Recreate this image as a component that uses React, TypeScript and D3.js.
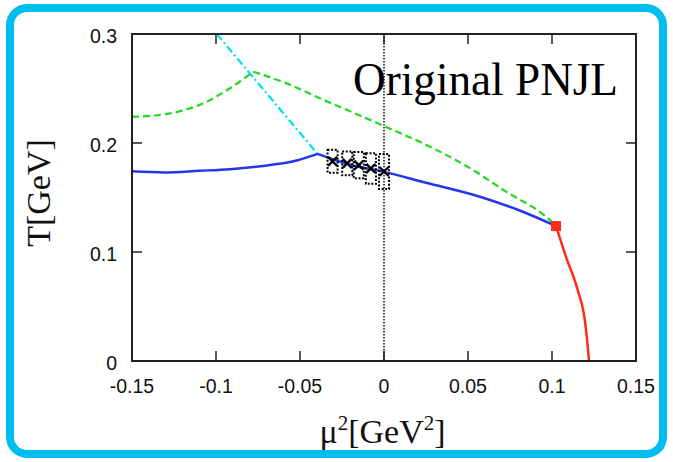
import React from "react";
import * as d3 from "d3";

// ---- data ----
const xTicks = [-0.15, -0.1, -0.05, 0, 0.05, 0.1, 0.15];
const xTickLabels = ["-0.15", "-0.1", "-0.05", "0", "0.05", "0.1", "0.15"];
const yTicks = [0, 0.1, 0.2, 0.3];
const yTickLabels = ["0", "0.1", "0.2", "0.3"];

// blue: crossover (solid), left of the kink
const blueLeftMu = [-0.15, -0.1304, -0.11, -0.0917, -0.072, -0.052, -0.0395];
const blueLeftT = [0.174, 0.173, 0.1745, 0.176, 0.179, 0.184, 0.19];
// blue: right of the kink up to the critical point
const blueRightMu = [-0.0395, -0.02, 0, 0.025, 0.0571, 0.08, 0.1024];
const blueRightT = [0.19, 0.18, 0.1735, 0.1635, 0.1507, 0.1385, 0.1238];
// red: first-order line
const redMu = [0.1024, 0.1083, 0.1153, 0.1198, 0.1218, 0.122];
const redT = [0.1238, 0.0957, 0.0651, 0.0346, 0.004, 0.0];
// green dashed
const greenLeftMu = [-0.15, -0.1274, -0.1076, -0.0917, -0.0778];
const greenLeftT = [0.224, 0.2272, 0.2364, 0.2502, 0.2654];
const greenRightMu = [-0.0778, -0.058, -0.0381, 0, 0.0293, 0.05, 0.071, 0.0998, 0.1024];
const greenRightT = [0.2654, 0.2547, 0.241, 0.2156, 0.1951, 0.178, 0.157, 0.1278, 0.1238];
// cyan dash-dot
const cyanMu = [-0.0996, -0.0395];
const cyanT = [0.3, 0.19];
// lattice points
const latMu = [-0.0306, -0.0219, -0.015, -0.0078, 0];
const latT = [0.1832, 0.1813, 0.1797, 0.1767, 0.1738];
const latMuErr = [0.003, 0.003, 0.003, 0.003, 0.003];
const latTErr = [0.0105, 0.011, 0.012, 0.014, 0.016];
// critical end point
const cepMu = [0.1024];
const cepT = [0.1238];

const W = 673;
const H = 462;

const x = d3.scaleLinear().domain([-0.15, 0.15]).range([132, 636]);
const y = d3.scaleLinear().domain([0, 0.3]).range([361, 34]);

const zip = (a: number[], b: number[]) => a.map((v, i) => [v, b[i]] as [number, number]);

const mono = d3
  .line<[number, number]>()
  .x((d) => x(d[0]))
  .y((d) => y(d[1]))
  .curve(d3.curveMonotoneX);
const lin = d3
  .line<[number, number]>()
  .x((d) => x(d[0]))
  .y((d) => y(d[1]));

export default function App() {
  const sans = "'Liberation Sans', Arial, sans-serif";
  const serif = "'Liberation Serif', 'Times New Roman', serif";
  const tickLen = 10;
  return (
    <svg
      width={W}
      height={H}
      style={{ position: "absolute", left: 0, top: 0, background: "#fff" }}
    >
      <rect x={0} y={0} width={W} height={H} fill="#fff" />
      <rect x={10} y={8} width={653} height={446} rx={17} ry={17} fill="none" stroke="#00BDEF" strokeWidth={8} />

      <defs>
        <clipPath id="plot">
          <rect x={132} y={34} width={504} height={327} />
        </clipPath>
      </defs>

      {/* ticks */}
      {xTicks.map((t, i) => (
        <g key={"xt" + i}>
          <line x1={x(t)} x2={x(t)} y1={361} y2={361 - tickLen} stroke="#222" strokeWidth={1.5} />
          <line x1={x(t)} x2={x(t)} y1={34} y2={34 + tickLen} stroke="#222" strokeWidth={1.5} />
          <text x={x(t)} y={393} textAnchor="middle" fontFamily={sans} fontSize={19.5} fill="#111">
            {xTickLabels[i]}
          </text>
        </g>
      ))}
      {yTicks.map((t, i) => (
        <g key={"yt" + i}>
          <line x1={132} x2={132 + tickLen} y1={y(t)} y2={y(t)} stroke="#222" strokeWidth={1.5} />
          <line x1={636} x2={636 - tickLen} y1={y(t)} y2={y(t)} stroke="#222" strokeWidth={1.5} />
          <text x={117} y={y(t) + 8.5} textAnchor="end" fontFamily={sans} fontSize={19.5} fill="#111">
            {yTickLabels[i]}
          </text>
        </g>
      ))}

      {/* title */}
      <text
        x={353}
        y={95}
        fontFamily={serif}
        fontSize={47}
        textLength={265}
        lengthAdjust="spacingAndGlyphs"
        fill="#000"
      >
        Original PNJL
      </text>

      <g clipPath="url(#plot)">
        {/* mu^2 = 0 dotted line */}
        <line x1={x(0)} x2={x(0)} y1={34} y2={361} stroke="#000" strokeWidth={1.4} strokeDasharray="1.5,1.5" />

        {/* green dashed */}
        <path d={mono(zip(greenLeftMu, greenLeftT)) || ""} fill="none" stroke="#1EDC1E" strokeWidth={2.2} strokeDasharray="7,4" />
        <path d={mono(zip(greenRightMu, greenRightT)) || ""} fill="none" stroke="#1EDC1E" strokeWidth={2.2} strokeDasharray="7,4" />

        {/* cyan dash-dot */}
        <path d={lin(zip(cyanMu, cyanT)) || ""} fill="none" stroke="#00E1EE" strokeWidth={2.2} strokeDasharray="8,3,2,3" />

        {/* blue solid */}
        <path d={mono(zip(blueLeftMu, blueLeftT)) || ""} fill="none" stroke="#2236EE" strokeWidth={2.5} />
        <path d={mono(zip(blueRightMu, blueRightT)) || ""} fill="none" stroke="#2236EE" strokeWidth={2.5} />

        {/* red solid */}
        <path d={mono(zip(redMu, redT)) || ""} fill="none" stroke="#FF2A18" strokeWidth={2.5} />

        {/* lattice error boxes */}
        {latMu.map((m, i) => (
          <rect
            key={"eb" + i}
            x={x(m - latMuErr[i])}
            y={y(latT[i] + latTErr[i])}
            width={x(m + latMuErr[i]) - x(m - latMuErr[i])}
            height={y(latT[i] - latTErr[i]) - y(latT[i] + latTErr[i])}
            fill="none"
            stroke="#000"
            strokeWidth={2}
            strokeDasharray="2,1.6"
          />
        ))}
        {/* lattice crosses */}
        {latMu.map((m, i) => {
          const cx = x(m);
          const cy = y(latT[i]);
          const s = 4.5;
          return (
            <g key={"cr" + i} stroke="#000" strokeWidth={2.3}>
              <line x1={cx - s} x2={cx + s} y1={cy - s} y2={cy + s} />
              <line x1={cx - s} x2={cx + s} y1={cy + s} y2={cy - s} />
            </g>
          );
        })}

        {/* critical end point */}
        {cepMu.map((m, i) => (
          <rect key={"cep" + i} x={x(m) - 5} y={y(cepT[i]) - 5} width={10} height={10} fill="#FF2A18" />
        ))}
      </g>

      {/* frame */}
      <rect x={132} y={34} width={504} height={327} fill="none" stroke="#222" strokeWidth={2} />

      {/* axis titles */}
      <text x={382.5} y={443} textAnchor="middle" fontFamily={serif} fontSize={34} fill="#111">
        μ
        <tspan fontSize={21} dy={-13}>2</tspan>
        <tspan dy={13}>[GeV</tspan>
        <tspan fontSize={21} dy={-13}>2</tspan>
        <tspan dy={13}>]</tspan>
      </text>
      <text
        transform="translate(50,193) rotate(-90)"
        textAnchor="middle"
        fontFamily={serif}
        fontSize={34}
        fill="#111"
      >
        T[GeV]
      </text>
    </svg>
  );
}
